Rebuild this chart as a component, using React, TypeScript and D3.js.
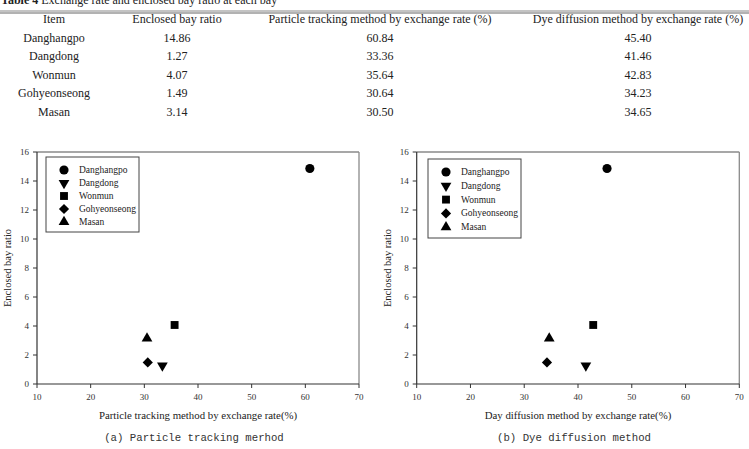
import * as d3 from 'd3';

// table / chart data
const bays = ['Danghangpo', 'Dangdong', 'Wonmun', 'Gohyeonseong', 'Masan'];
const enclosedRatio = [14.86, 1.27, 4.07, 1.49, 3.14];
const particleRate = [60.84, 33.36, 35.64, 30.64, 30.5];
const dyeRate = [45.4, 41.46, 42.83, 34.23, 34.65];

const tableHeaders = [
  'Item',
  'Enclosed bay ratio',
  'Particle tracking method by exchange rate (%)',
  'Dye diffusion method by exchange rate (%)',
];
const xTicks = [10, 20, 30, 40, 50, 60, 70];
const yTicks = [0, 2, 4, 6, 8, 10, 12, 14, 16];

const serif = '"Liberation Serif", "DejaVu Serif", serif';
const mono = '"Liberation Mono", "DejaVu Sans Mono", monospace';

const symbolFor = (i: number) => {
  const types = [d3.symbolCircle, d3.symbolTriangle, d3.symbolSquare, d3.symbolSquare, d3.symbolTriangle];
  const sizes = [66, 50, 62, 52, 50];
  return d3.symbol().type(types[i]).size(sizes[i])() as string;
};
const rotFor = (i: number) => (i === 1 ? 180 : i === 3 ? 45 : 0);

type PanelProps = {
  left: number;
  right: number;
  xs: number[];
  xLabel: string;
  caption: string;
  legend: { x: number; y: number; w: number; h: number; rowH: number };
};

const Panel = ({ left, right, xs, xLabel, caption, legend }: PanelProps) => {
  const top = 152;
  const bottom = 384;
  const x = d3.scaleLinear().domain([10, 70]).range([left, right]);
  const y = d3.scaleLinear().domain([0, 16]).range([bottom, top]);
  const cx = (left + right) / 2;

  return (
    <g fontFamily={serif}>
      {/* frame: top/right grey */}
      <line x1={left} x2={right} y1={top} y2={top} stroke="#8a8a8a" strokeWidth={1.3} />
      <line x1={right} x2={right} y1={top} y2={bottom} stroke="#8a8a8a" strokeWidth={1.3} />
      {/* axes */}
      <line x1={left} x2={left} y1={top} y2={bottom} stroke="#333" strokeWidth={1.2} />
      <line x1={left} x2={right} y1={bottom} y2={bottom} stroke="#333" strokeWidth={1.2} />
      {yTicks.map((t) => (
        <g key={'y' + t}>
          <line x1={left - 4} x2={left} y1={y(t)} y2={y(t)} stroke="#333" />
          <text x={left - 8} y={y(t) + 3} fontSize={9} textAnchor="end" fill="#333">
            {t}
          </text>
        </g>
      ))}
      {xTicks.map((t) => (
        <g key={'x' + t}>
          <line x1={x(t)} x2={x(t)} y1={bottom} y2={bottom + 4} stroke="#333" />
          <text x={x(t)} y={bottom + 16} fontSize={9} textAnchor="middle" fill="#333">
            {t}
          </text>
        </g>
      ))}
      <text
        transform={`translate(${left - 26},${(top + bottom) / 2}) rotate(-90)`}
        fontSize={10.5}
        textAnchor="middle"
        fill="#222"
      >
        Enclosed bay ratio
      </text>
      <text x={cx} y={419} fontSize={10.8} textAnchor="middle" fill="#222">
        {xLabel}
      </text>
      <text x={cx - 4} y={441} fontSize={10.7} fontFamily={mono} textAnchor="middle" fill="#333">
        {caption}
      </text>

      {/* legend */}
      <rect x={legend.x} y={legend.y} width={legend.w} height={legend.h} fill="#fff" stroke="#444" strokeWidth={1} />
      {bays.map((b, i) => (
        <g key={'l' + b}>
          <path
            d={symbolFor(i)}
            transform={`translate(${legend.x + 18},${legend.y + 13 + i * legend.rowH}) rotate(${rotFor(i)})`}
            fill="#000"
          />
          <text x={legend.x + 33} y={legend.y + 16 + i * legend.rowH} fontSize={9.5} fill="#222">
            {b}
          </text>
        </g>
      ))}

      {/* points */}
      {bays.map((b, i) => (
        <path
          key={'p' + b}
          d={symbolFor(i)}
          transform={`translate(${x(xs[i])},${y(enclosedRatio[i])}) rotate(${rotFor(i)})`}
          fill="#000"
        />
      ))}
    </g>
  );
};

const colX = [54, 177, 380, 638];
const rowY = [37.5, 56, 74.5, 93, 111.5];

export default function App() {
  const rows = bays.map((b, i) => [
    b,
    enclosedRatio[i].toFixed(2),
    particleRate[i].toFixed(2),
    dyeRate[i].toFixed(2),
  ]);
  return (
    <svg width={749} height={449} style={{ position: 'absolute', left: 0, top: 0, background: '#fff' }}>
      <rect width={749} height={449} fill="#fff" />
      <g fontFamily={serif} fill="#222">
        <text x={1} y={4} fontSize={12}>
          <tspan fontWeight="bold">Table 4</tspan> Exchange rate and enclosed bay ratio at each bay
        </text>
        <line x1={0} x2={749} y1={11} y2={11} stroke="#888" strokeWidth={1} />
        <line x1={0} x2={749} y1={13} y2={13} stroke="#666" strokeWidth={1.2} />
        {tableHeaders.map((h, j) => (
          <text key={h} x={colX[j]} y={23} fontSize={12} textAnchor="middle">
            {h}
          </text>
        ))}
        {rows.map((r, i) =>
          r.map((c, j) => (
            <text key={i + '-' + j} x={colX[j]} y={rowY[i] + 4} fontSize={12} textAnchor="middle">
              {c}
            </text>
          ))
        )}
      </g>

      <Panel
        left={37}
        right={359}
        xs={particleRate}
        xLabel="Particle tracking method by exchange rate(%)"
        caption="(a) Particle tracking merhod"
        legend={{ x: 46, y: 157, w: 93, h: 75, rowH: 13 }}
      />
      <Panel
        left={416.7}
        right={739.3}
        xs={dyeRate}
        xLabel="Day diffusion method by exchange rate(%)"
        caption="(b) Dye diffusion method"
        legend={{ x: 428, y: 159, w: 93, h: 79, rowH: 13.8 }}
      />
    </svg>
  );
}
